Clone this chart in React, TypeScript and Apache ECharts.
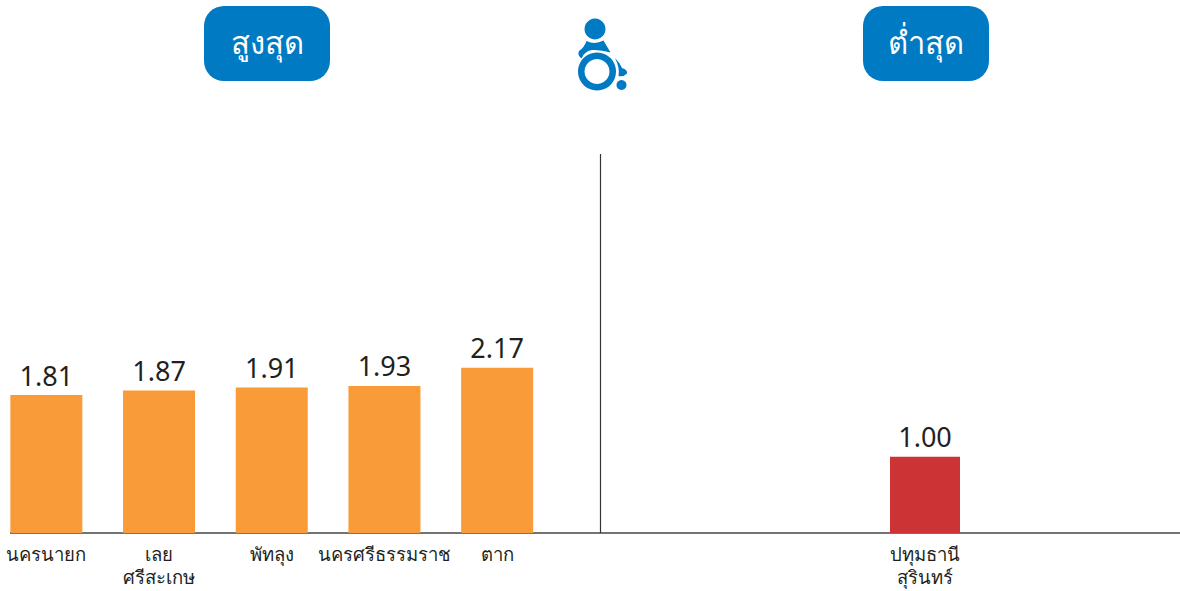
import React, { useEffect, useRef } from "react";
import * as echarts from "echarts";

const highestCategories = ["นครนายก", "เลย\nศรีสะเกษ", "พัทลุง", "นครศรีธรรมราช", "ตาก"];
const highestValues = [1.81, 1.87, 1.91, 1.93, 2.17];
const lowestCategories = ["ปทุมธานี\nสุรินทร์"];
const lowestValues = [1.0];
const headings = ["สูงสุด", "ต่ำสุด"];

const BLUE = "#007AC3";
const FONT = "'Noto Sans', 'Noto Sans CJK SC', sans-serif";

echarts.graphic.registerShape(
  "wheelTorso",
  echarts.graphic.extendPath(
    "M586.5 41 Q595 45 603.5 40.5 L610.5 52.5 Q601 49.5 592 50 Q584 51.5 581.5 58.5 Q577 55 579 51 Q584 48 586.5 41 Z",
    {}
  )
);
echarts.graphic.registerShape(
  "wheelLeg",
  echarts.graphic.extendPath(
    "M615 58 Q620 63 622 68 Q628 70 627 73.5 Q624 77 618.5 76 Q620 68 615 58 Z",
    {}
  )
);

const badge = (cx: number, text: string) => ({
  type: "group",
  children: [
    { type: "rect", shape: { x: cx - 63, y: 6, width: 126, height: 75, r: 20 }, style: { fill: BLUE } },
    {
      type: "text",
      x: cx,
      y: 41.5,
      style: { text, fill: "#ffffff", font: `500 31px ${FONT}`, textAlign: "center", textVerticalAlign: "middle" },
    },
  ],
});

const barSeries = (data: number[], color: string, axisIndex: number, width: number) => ({
  type: "bar",
  data,
  xAxisIndex: axisIndex,
  yAxisIndex: axisIndex,
  barWidth: width,
  itemStyle: { color },
  label: {
    show: true,
    position: "top",
    distance: 6.5,
    formatter: (p: any) => Number(p.value).toFixed(2),
    fontSize: 27,
    fontFamily: FONT,
    color: "#231F20",
  },
});

const xAxis = (data: string[], gridIndex: number) => ({
  type: "category",
  gridIndex,
  data,
  axisLine: { show: false },
  axisTick: { show: false },
  axisLabel: {
    interval: 0,
    margin: 9,
    fontSize: 18.5,
    lineHeight: 23,
    fontFamily: FONT,
    color: "#231F20",
  },
});

const yAxis = (gridIndex: number) => ({
  type: "value",
  gridIndex,
  min: 0,
  max: 5,
  show: false,
  splitLine: { show: false },
});

export default function App() {
  const ref = useRef<HTMLDivElement>(null);
  useEffect(() => {
    document.body.style.margin = "0";
    const chart = echarts.init(ref.current!, undefined, { renderer: "svg" });
    chart.setOption({
      animation: false,
      backgroundColor: "#ffffff",
      grid: [
        { left: -10, top: 152, width: 563.5, height: 381, outerBoundsMode: "none" },
        { left: 670, top: 152, width: 510, height: 381, outerBoundsMode: "none" },
      ],
      xAxis: [xAxis(highestCategories, 0), xAxis(lowestCategories, 1)],
      yAxis: [yAxis(0), yAxis(1)],
      series: [barSeries(highestValues, "#F99B38", 0, 72), barSeries(lowestValues, "#CC3335", 1, 70)],
      graphic: [
        { type: "line", shape: { x1: 10, y1: 533, x2: 1180, y2: 533 }, style: { stroke: "#444446", lineWidth: 1.5 } },
        { type: "line", shape: { x1: 600.5, y1: 154, x2: 600.5, y2: 533 }, style: { stroke: "#333335", lineWidth: 1.2 } },
        badge(267, headings[0]),
        badge(926, headings[1]),
        { type: "circle", shape: { cx: 595, cy: 29, r: 10.5 }, style: { fill: BLUE } },
        { type: "wheelTorso", style: { fill: BLUE } },
        { type: "wheelLeg", style: { fill: BLUE } },
        { type: "ring", shape: { cx: 597, cy: 71.5, r: 19, r0: 12.5 }, style: { fill: BLUE } },
        { type: "circle", shape: { cx: 621.5, cy: 85, r: 5 }, style: { fill: BLUE } },
      ],
    });
    return () => chart.dispose();
  }, []);
  return <div ref={ref} style={{ position: "absolute", left: 0, top: 0, width: 1180, height: 591 }} />;
}
